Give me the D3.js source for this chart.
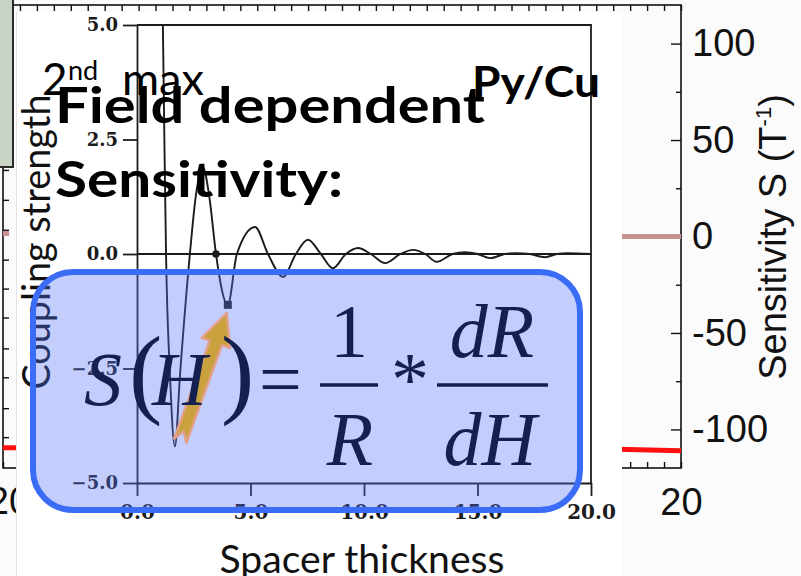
<!DOCTYPE html>
<html>
<head>
<meta charset="utf-8">
<script src="https://cdn.jsdelivr.net/npm/d3@7"></script>
<style>
  body { margin: 0; background: #fff; }
  svg { display: block; }
</style>
</head>
<body>
<div id="chart"></div>
<script>
// ---- data ----
// scanned inset: interlayer coupling vs spacer thickness
var thickness = [1.14, 1.22, 1.28, 1.45, 1.67, 1.9, 2.33, 2.6, 2.9, 3.2,
                 3.48, 4.0, 4.4, 5.2, 5.77, 6.43, 7.0, 7.53, 8.1, 8.63,
                 9.2, 9.74, 10.3, 10.93, 11.6, 12.16, 12.7, 13.2, 13.9, 14.45,
                 15.0, 15.55, 16.2, 16.74, 17.3, 17.97, 18.5, 18.94, 20.0];
var coupling  = [5.0, 2.0, 0.0, -2.6, -4.2, -2.6, 0.0, 1.3, 1.9, 1.2,
                 0.0, -1.11, 0.0, 0.59, 0.0, -0.5, 0.0, 0.31, 0.0, -0.31,
                 0.0, 0.13, 0.0, -0.2, 0.0, 0.09, 0.0, -0.17, 0.0, 0.04,
                 0.0, -0.09, 0.0, 0.02, 0.0, -0.07, 0.0, 0.02, 0.0];
var dotT = [3.48], dotC = [0.0];        // round marker
var squareT = [4.0], squareC = [-1.11]; // square marker (2nd max)
var couplingTicks = [5.0, 2.5, 0.0, -2.5, -5.0];
var spacerTicks = [0, 5, 10, 15, 20];

// background sensitivity panel
var sensTicks = [100, 50, 0, -50, -100];
var sensMinor = [75, 25, -25, -75];
var leftPanelTicks = [112, 96.5, 81, 65.5, 50, 34.5, 19, 3.5, -12, -27, -42, -58, -73, -89, -104];
var bgThickTicks = [20];
var pinkT = [0, 0.18, 1, 17.5, 20];
var pinkS = [1.5, 1.5, null, 0, 0];
var redT = [0, 0.4, 1, 17.5, 20];
var redS = [-109.5, -109.5, null, -110, -111];

var width = 801, height = 576;
var svg = d3.select("#chart").append("svg")
    .attr("width", width)
    .attr("height", height);

svg.append("rect").attr("width", width).attr("height", height).attr("fill", "#fbfbfb");

// ---------- background sensitivity plot ----------
var bgX = d3.scaleLinear().domain([0, 20]).range([3, 681]);
var bgY = d3.scaleLinear().domain([-120, 120]).range([468, 5]);

var bg = svg.append("g").attr("color", "#111");

// frame
bg.append("rect")
  .attr("x", bgX(0)).attr("y", bgY(120))
  .attr("width", bgX(20) - bgX(0)).attr("height", bgY(-120) - bgY(120))
  .attr("fill", "none").attr("stroke", "#111").attr("stroke-width", 1.6);

// top minor ticks
bg.append("g")
  .attr("transform", "translate(0," + bgY(120) + ")")
  .call(d3.axisTop(bgX).tickValues(d3.range(0, 20.01, 0.5)).tickSize(-6).tickFormat(""))
  .call(function(g) { g.select(".domain").remove(); g.selectAll("line").attr("stroke-width", 1.4); });

// bottom ticks + "20"
bg.append("g")
  .attr("transform", "translate(0," + bgY(-120) + ")")
  .call(d3.axisBottom(bgX).tickValues(d3.range(0, 20.01, 0.5)).tickSize(-6).tickFormat(""))
  .call(function(g) { g.select(".domain").remove(); g.selectAll("line").attr("stroke-width", 1.4); });
bg.append("g")
  .attr("transform", "translate(0," + bgY(-120) + ")")
  .call(d3.axisBottom(bgX).tickValues(bgThickTicks).tickSize(0).tickPadding(20))
  .call(function(g) {
    g.select(".domain").remove();
    g.selectAll("text").attr("font-family", "'Liberation Sans', Arial, sans-serif")
      .attr("font-size", 38).attr("fill", "#111");
  });

// right axis (plain hyphen minus like the original)
bg.append("g")
  .attr("transform", "translate(" + bgX(20) + ",0)")
  .call(d3.axisRight(bgY).tickValues(sensTicks).tickSize(-10).tickPadding(11)
          .tickFormat(function(d) { return String(d); }))
  .call(function(g) {
    g.select(".domain").remove();
    g.selectAll("line").attr("stroke-width", 1.4);
    g.selectAll("text").attr("font-family", "'Liberation Sans', Arial, sans-serif")
      .attr("font-size", 38).attr("fill", "#111");
  });
bg.append("g")
  .attr("transform", "translate(" + bgX(20) + ",0)")
  .call(d3.axisRight(bgY).tickValues(sensMinor).tickSize(-5).tickFormat(""))
  .call(function(g) { g.select(".domain").remove(); g.selectAll("line").attr("stroke-width", 1.4); });

// left (cropped) panel ticks
bg.append("g")
  .attr("transform", "translate(" + bgX(0) + ",0)")
  .call(d3.axisLeft(bgY).tickValues(leftPanelTicks).tickSize(-6).tickFormat(""))
  .call(function(g) { g.select(".domain").remove(); g.selectAll("line").attr("stroke-width", 1.4); });
// left "20" of the cropped neighbour panel
bg.append("text")
  .attr("x", bgX(0) + 6).attr("y", 514)
  .attr("text-anchor", "middle")
  .attr("font-family", "'Liberation Sans', Arial, sans-serif")
  .attr("font-size", 38).attr("fill", "#111")
  .text(bgThickTicks[0]);

// axis title
bg.append("text")
  .attr("transform", "translate(786,237) rotate(-90)")
  .attr("text-anchor", "middle")
  .attr("font-family", "'Liberation Sans', Arial, sans-serif")
  .attr("font-size", 38).attr("fill", "#111")
  .call(function(t) {
    t.append("tspan").text("Sensitivity S (T");
    t.append("tspan").attr("font-size", 22).attr("dy", -15).text("-1");
    t.append("tspan").attr("dy", 15).text(")");
  });

// sensitivity lines
var sensLine = d3.line()
  .defined(function(d) { return d[1] !== null; })
  .x(function(d) { return bgX(d[0]); })
  .y(function(d) { return bgY(d[1]); });
bg.append("path")
  .datum(pinkT.map(function(t, i) { return [t, pinkS[i]]; }))
  .attr("d", sensLine).attr("fill", "none")
  .attr("stroke", "#c99291").attr("stroke-width", 5);
bg.append("path")
  .datum(redT.map(function(t, i) { return [t, redS[i]]; }))
  .attr("d", sensLine).attr("fill", "none")
  .attr("stroke", "#ff1010").attr("stroke-width", 5);

// ---------- scanned inset ----------
svg.append("rect")
  .attr("x", 16).attr("y", 12).attr("width", 606).attr("height", 570)
  .attr("fill", "#fff");
svg.append("line")
  .attr("x1", 16.5).attr("x2", 16.5).attr("y1", 12).attr("y2", 576)
  .attr("stroke", "#e2e2e2").attr("stroke-width", 1);

var cx = d3.scaleLinear().domain([0, 20]).range([137, 591]);
var cy = d3.scaleLinear().domain([-5, 5]).range([483, 25]);
var fmtC = function(d) { return (d < 0 ? "\u2212" : "") + Math.abs(d).toFixed(1); };
var ink = "#1c1c1c";

var inset = svg.append("g").attr("color", ink);

inset.append("g")
  .attr("transform", "translate(" + cx(0) + ",0)")
  .call(d3.axisLeft(cy).tickValues(couplingTicks).tickSize(14).tickSizeOuter(0).tickPadding(5).tickFormat(fmtC))
  .call(function(g) {
    g.selectAll("line, path").attr("stroke-width", 1.8);
    g.selectAll("text").attr("font-family", "'DejaVu Serif', serif")
      .attr("font-weight", "bold").attr("font-size", 18).attr("fill", ink);
  });

inset.append("g")
  .attr("transform", "translate(0," + cy(-5) + ")")
  .call(d3.axisBottom(cx).tickValues(spacerTicks).tickSize(13).tickSizeOuter(0).tickPadding(9).tickFormat(fmtC))
  .call(function(g) {
    g.selectAll("line, path").attr("stroke-width", 1.8);
    g.selectAll("text").attr("font-family", "'DejaVu Serif', serif")
      .attr("font-weight", "bold").attr("font-size", 20).attr("fill", ink);
  });

// top / right border and zero line
inset.append("path")
  .attr("d", "M" + cx(0) + "," + cy(5) + "H" + cx(20) + "V" + cy(-5))
  .attr("fill", "none").attr("stroke", ink).attr("stroke-width", 1.8);
inset.append("line")
  .attr("x1", cx(0)).attr("x2", cx(20))
  .attr("y1", cy(0)).attr("y2", cy(0))
  .attr("stroke", ink).attr("stroke-width", 1.8);

svg.append("clipPath").attr("id", "plotClip")
  .append("rect").attr("x", cx(0)).attr("y", cy(5))
  .attr("width", cx(20) - cx(0)).attr("height", cy(-5) - cy(5));

var curve = d3.line()
  .x(function(d) { return cx(d[0]); })
  .y(function(d) { return cy(d[1]); })
  .curve(d3.curveMonotoneX);
inset.append("path")
  .datum(thickness.map(function(t, i) { return [t, coupling[i]]; }))
  .attr("clip-path", "url(#plotClip)")
  .attr("d", curve)
  .attr("fill", "none").attr("stroke", ink).attr("stroke-width", 1.9);

inset.selectAll(".dot")
  .data(dotT.map(function(t, i) { return [t, dotC[i]]; }))
  .enter().append("circle")
  .attr("cx", function(d) { return cx(d[0]); })
  .attr("cy", function(d) { return cy(d[1]); })
  .attr("r", 3.8).attr("fill", ink);
inset.selectAll(".sq")
  .data(squareT.map(function(t, i) { return [t, squareC[i]]; }))
  .enter().append("rect")
  .attr("x", function(d) { return cx(d[0]) - 4; })
  .attr("y", function(d) { return cy(d[1]) - 4; })
  .attr("width", 8).attr("height", 8).attr("fill", ink);

inset.append("text")
  .attr("transform", "translate(50,242) rotate(-90)")
  .attr("text-anchor", "middle")
  .attr("font-family", "Lato, 'Open Sans', sans-serif")
  .attr("font-size", 38).attr("fill", "#111")
  .attr("textLength", 295).attr("lengthAdjust", "spacingAndGlyphs")
  .text("Coupling strength");

inset.append("text")
  .attr("x", 362).attr("y", 573)
  .attr("text-anchor", "middle")
  .attr("font-family", "Lato, 'Open Sans', sans-serif")
  .attr("font-size", 38).attr("fill", "#111")
  .attr("textLength", 285).attr("lengthAdjust", "spacingAndGlyphs")
  .text("Spacer thickness");

// ---------- formula box ----------
svg.append("rect")
  .attr("x", 33).attr("y", 272).attr("width", 547).attr("height", 238)
  .attr("rx", 40).attr("ry", 40)
  .attr("fill", "rgba(85,115,250,0.35)")
  .attr("stroke", "#3a6cf6").attr("stroke-width", 6);

// arrow pointing at the 2nd maximum
var tip = [cx(squareT[0]) - 1, cy(squareC[0]) + 8];
svg.append("polygon")
  .attr("transform", "translate(" + tip[0] + "," + tip[1] + ") rotate(-70)")
  .attr("points", [[0, 0], [-32, -15], [-32, -6.5], [-136, -6.5], [-126, 0],
                   [-136, 6.5], [-32, 6.5], [-32, 15]].join(" "))
  .attr("fill", "#c9a23f").attr("stroke", "#e2a08a").attr("stroke-width", 2.5)
  .attr("stroke-linejoin", "round");

// formula S(H) = 1/R * dR/dH
var navy = "#14214f";
var serif = "'Liberation Serif', 'Times New Roman', serif";
var f = svg.append("g").attr("fill", navy).attr("font-family", serif);
f.append("text").attr("x", 84).attr("y", 405).attr("font-size", 76).attr("font-style", "italic").text("S");
f.append("text").attr("x", 129).attr("y", 405).attr("font-size", 100).text("(");
f.append("text").attr("x", 152).attr("y", 405).attr("font-size", 76).attr("font-style", "italic").text("H");
f.append("text").attr("x", 221).attr("y", 405).attr("font-size", 100).text(")");
f.append("text").attr("x", 259).attr("y", 405).attr("font-size", 76).text("=");
f.append("text").attr("x", 349).attr("y", 357).attr("font-size", 76).attr("text-anchor", "middle").text("1");
f.append("text").attr("x", 350).attr("y", 465).attr("font-size", 76).attr("font-style", "italic").attr("text-anchor", "middle").text("R");
f.append("text").attr("x", 391).attr("y", 405).attr("font-size", 76).text("*");
f.append("text").attr("x", 492).attr("y", 357).attr("font-size", 76).attr("font-style", "italic").attr("text-anchor", "middle").text("dR");
f.append("text").attr("x", 490).attr("y", 465).attr("font-size", 76).attr("font-style", "italic").attr("text-anchor", "middle").text("dH");
f.append("line").attr("x1", 320).attr("x2", 378).attr("y1", 385).attr("y2", 385).attr("stroke", navy).attr("stroke-width", 3.5);
f.append("line").attr("x1", 437).attr("x2", 548).attr("y1", 385).attr("y2", 385).attr("stroke", navy).attr("stroke-width", 3.5);

// ---------- overlay titles ----------
var sans = "Lato, 'Open Sans', sans-serif";
var t = svg.append("g").attr("fill", "#000").attr("font-family", sans);
t.append("text").attr("x", 42).attr("y", 95).attr("font-size", 44).text("2");
t.append("text").attr("x", 68).attr("y", 80).attr("font-size", 27).text("nd");
t.append("text").attr("x", 122).attr("y", 95).attr("font-size", 44)
  .attr("textLength", 82).attr("lengthAdjust", "spacingAndGlyphs").text("max");
t.append("text").attr("x", 55).attr("y", 123).attr("font-size", 49).attr("font-weight", "bold")
  .attr("textLength", 430).attr("lengthAdjust", "spacingAndGlyphs").text("Field dependent");
t.append("text").attr("x", 55).attr("y", 197).attr("font-size", 49).attr("font-weight", "bold")
  .attr("textLength", 288).attr("lengthAdjust", "spacingAndGlyphs").text("Sensitivity:");
t.append("text").attr("x", 472).attr("y", 97).attr("font-size", 42).attr("font-weight", "bold")
  .attr("textLength", 128).attr("lengthAdjust", "spacingAndGlyphs").text("Py/Cu");

// top-left grey-green box
svg.append("rect")
  .attr("x", -3).attr("y", -3).attr("width", 16).attr("height", 170)
  .attr("fill", "#c9d3c6").attr("stroke", "#2a2a2a").attr("stroke-width", 2);
</script>
</body>
</html>
